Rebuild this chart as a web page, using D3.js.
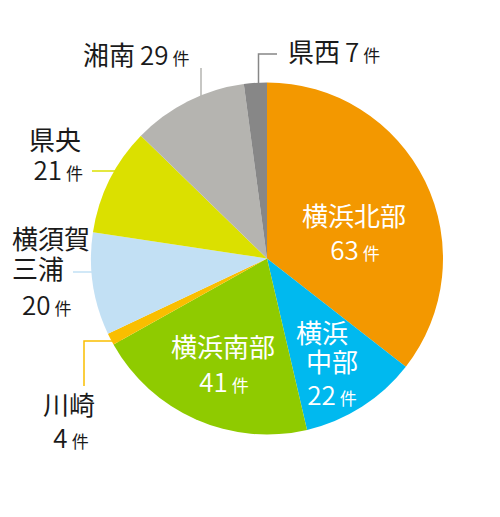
<!DOCTYPE html>
<html>
<head>
<meta charset="utf-8">
<script src="https://cdn.jsdelivr.net/npm/d3@7"></script>
<style>
  body { margin: 0; background: #fff; }
  text { font-family: "Noto Sans CJK JP", "Noto Sans", sans-serif; font-weight: 400; }
  tspan.num { font-weight: 350; }
</style>
</head>
<body>
<div id="pieChart"></div>
<script>
    var regions = ["横浜北部", "横浜中部", "横浜南部", "川崎", "横須賀三浦", "県央", "湘南", "県西"];
    var counts = [63, 22, 41, 4, 20, 21, 29, 7];          // 件数 (labels)
    var shares = [35.5, 10.8, 20.5, 1.1, 9.4, 9.9, 10.6, 2.1]; // slice size as drawn (%)
    var colors = ["#f39800", "#00b9ef", "#8fcb00", "#fabe00", "#c2e0f4", "#dbe000", "#b5b4b0", "#878787"];

    var data = regions.map(function(r, i) {
      return {name: r, count: counts[i], share: shares[i], color: colors[i]};
    });

    var width = 500,
    height = 517,
    radius = 176,
    cx = 267, cy = 258.5;

    var arc = d3.arc()
      .outerRadius(radius)
      .innerRadius(0);

    var pie = d3.pie()
      .sort(null)
      .value(function(d) { return d.share; });

    var svg = d3.select("#pieChart").append("svg")
      .attr("width", width)
      .attr("height", height);

    // leader lines sit under the pie, so they just run into it
    var leaders = [
      {i: 6, pts: [[201, 68], [201, 120]]},
      {i: 7, pts: [[277, 54], [258.5, 54], [258.5, 120]]},
      {i: 5, pts: [[92, 171], [150, 171]]},
      {i: 4, pts: [[73, 272], [120, 272]]},
      {i: 3, pts: [[84, 386], [84, 341], [130, 341]]}
    ];

    svg.selectAll(".leader")
      .data(leaders)
      .enter().append("path")
      .attr("class", "leader")
      .attr("fill", "none")
      .attr("stroke-width", 1.5)
      .attr("stroke", function(d) { return colors[d.i]; })
      .attr("d", function(d) { return d3.line()(d.pts); });

    var g = svg.append("g")
      .attr("transform", "translate(" + cx + "," + cy + ")");

    g.selectAll(".arc")
      .data(pie(data))
      .enter().append("path")
      .attr("class", "arc")
      .attr("d", arc)
      .style("fill", function(d) { return d.data.color; });

    // label rows: k = name / count / both
    var layout = [
      {anchor: "middle", fill: "#fff", rows: [{x: 354, y: 226, k: "name"}, {x: 355, y: 260, k: "count"}]},
      {anchor: "middle", fill: "#fff", rows: [{x: 322, y: 343, k: "name", from: 0, to: 2}, {x: 332, y: 372, k: "name", from: 2}, {x: 332, y: 405, k: "count"}]},
      {anchor: "middle", fill: "#fff", rows: [{x: 223, y: 357, k: "name"}, {x: 224, y: 392, k: "count"}]},
      {anchor: "middle", fill: "#1a1a1a", rows: [{x: 69, y: 415, k: "name"}, {x: 71, y: 448, k: "count"}]},
      {anchor: "start", fill: "#1a1a1a", rows: [{x: 12, y: 249, k: "name", from: 0, to: 3}, {x: 12, y: 279, k: "name", from: 3}, {x: 22, y: 315, k: "count"}]},
      {anchor: "end", fill: "#1a1a1a", rows: [{x: 81, y: 150, k: "name"}, {x: 83, y: 180, k: "count"}]},
      {anchor: "start", fill: "#1a1a1a", rows: [{x: 83, y: 65, k: "both"}]},
      {anchor: "start", fill: "#1a1a1a", rows: [{x: 288, y: 62, k: "both"}]}
    ];

    layout.forEach(function(l, i) {
      var d = data[i];
      l.rows.forEach(function(row) {
        var t = svg.append("text")
          .attr("x", row.x)
          .attr("y", row.y)
          .attr("text-anchor", l.anchor)
          .attr("fill", l.fill)
          .attr("font-size", "26px");
        if (row.k == "name" || row.k == "both") {
          t.append("tspan").text(d.name.slice(row.from || 0, row.to));
        }
        if (row.k == "count" || row.k == "both") {
          t.append("tspan")
            .attr("class", "num")
            .attr("dx", row.k == "both" ? 5 : 0)
            .text(d.count);
          t.append("tspan")
            .attr("dx", 4)
            .attr("font-size", "17px")
            .text("件");
        }
      });
    });
</script>
</body>
</html>
